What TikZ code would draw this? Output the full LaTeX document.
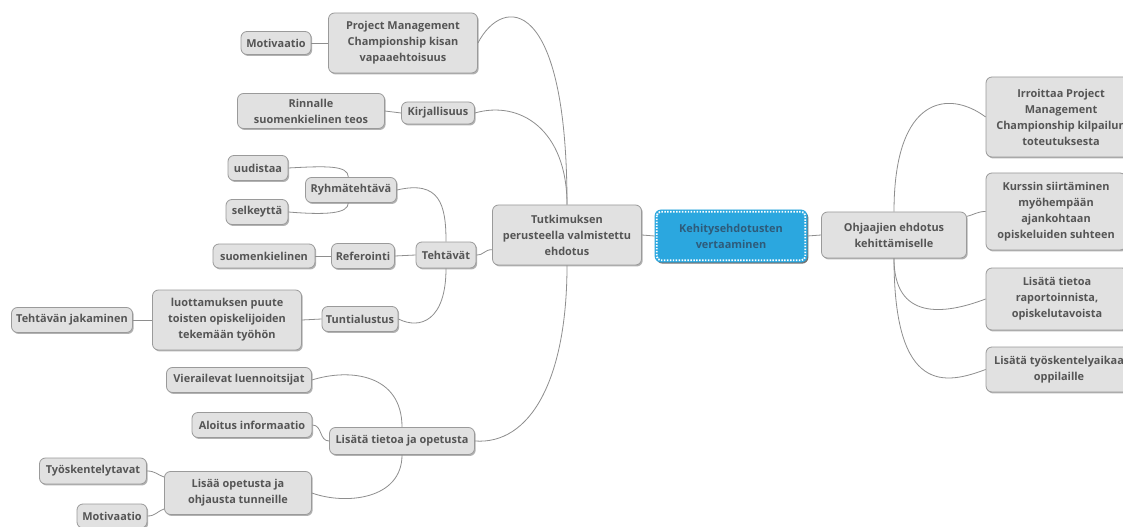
\documentclass[tikz,border=0pt]{standalone}
\usepackage{fontspec}
\setmainfont{Open Sans}
\usetikzlibrary{shadows}
\definecolor{boxfill}{HTML}{E1E1E1}
\definecolor{boxdraw}{HTML}{9A9A9A}
\definecolor{txt}{HTML}{555555}
\definecolor{edgec}{HTML}{8E8E8E}
\definecolor{cblue}{HTML}{2BA7DF}
\definecolor{ctxt}{HTML}{2E5B7A}
\newlength\pxu \setlength\pxu{0.75pt}
\begin{document}
\begin{tikzpicture}[x=0.75pt,y=-0.75pt,
  mm/.style={draw=boxdraw, fill=boxfill, rounded corners=4.5pt, line width=0.6pt, text=txt,
    font=\fontsize{8.2}{12}\selectfont\bfseries, align=center, inner sep=1pt,
    drop shadow={shadow xshift=0.9pt, shadow yshift=-1.1pt, fill=black, opacity=0.3}},
  sz/.style 2 args={minimum width=#1*\pxu, minimum height=#2*\pxu},
  cnode/.style={fill=cblue, draw=cblue, rounded corners=4.5pt, line width=0.6pt, text=ctxt,
    font=\fontsize{8.2}{12}\selectfont\bfseries, align=center, inner sep=1pt,
    drop shadow={shadow xshift=1pt, shadow yshift=-1.2pt, fill=black, opacity=0.55}},
  edge/.style={draw=edgec, line width=0.6pt}]
\useasboundingbox (0,0) rectangle (1123,527);
\clip (0,0) rectangle (1123,527);
\fill[white] (0,0) rectangle (1123,527);

% centre
\node[cnode, sz={152}{52}] (cen) at (731,236) {Kehitysehdotusten\\vertaaminen};
\draw[white, line width=1.4pt, dash pattern=on 1.1pt off 1.1pt, rounded corners=3pt]
  ([shift={(1.6pt,-1.6pt)}]cen.north west) rectangle ([shift={(-1.6pt,1.6pt)}]cen.south east);

% main branches
\node[mm, sz={149}{60}] (tut) at (567,235) {Tutkimuksen\\perusteella valmistettu\\ehdotus};
\node[mm, sz={145}{46}] (ohj) at (894,235) {Ohjaajien ehdotus\\kehittämiselle};

% right side
\node[mm, sz={150}{80}] (irr) at (1061,117) {Irroittaa Project\\Management\\Championship kilpailun\\toteutuksesta};
\node[mm, sz={140}{77}] (kur) at (1056,211.5) {Kurssin siirtäminen\\myöhempään\\ajankohtaan\\opiskeluiden suhteen};
\node[mm, sz={142}{62}] (lt1) at (1057,299) {Lisätä tietoa\\raportoinnista,\\opiskelutavoista};
\node[mm, sz={146}{45}] (lt2) at (1059,369.5) {Lisätä työskentelyaikaa\\oppilaille};

% left side, top
\node[mm, sz={149}{60}] (pm) at (403,43) {Project Management\\Championship kisan\\vapaaehtoisuus};
\node[mm, sz={70}{23}] (mot1) at (276,43) {Motivaatio};
\node[mm, sz={147}{35}] (rin) at (311,111) {Rinnalle\\suomenkielinen teos};
\node[mm, sz={73}{22}] (kir) at (438,113) {Kirjallisuus};

% tasks
\node[mm, sz={60}{25}] (uud) at (258,168) {uudistaa};
\node[mm, sz={91}{25}] (ryh) at (351,190) {Ryhmätehtävä};
\node[mm, sz={62}{25}] (sel) at (257,212) {selkeyttä};
\node[mm, sz={60}{26}] (teh) at (446,255) {Tehtävät};
\node[mm, sz={63}{25}] (ref) at (363,256) {Referointi};
\node[mm, sz={102}{24}] (suo) at (264,256) {suomenkielinen};
\node[mm, sz={76}{25}] (tun) at (360,319) {Tuntialustus};
\node[mm, sz={149}{60}] (luo) at (227,320) {luottamuksen puute\\toisten opiskelijoiden\\tekemään työhön};
\node[mm, sz={121}{25}] (tja) at (72,320) {Tehtävän jakaminen};

% info
\node[mm, sz={145}{25}] (vie) at (239,380) {Vierailevat luennoitsijat};
\node[mm, sz={120}{25}] (alo) at (252,425) {Aloitus informaatio};
\node[mm, sz={145}{27}] (lto) at (402,441) {Lisätä tietoa ja opetusta};
\node[mm, sz={147}{43}] (lop) at (238,493) {Lisää opetusta ja\\ohjausta tunneille};
\node[mm, sz={107}{26}] (tyo) at (93,471) {Työskentelytavat};
\node[mm, sz={70}{24}] (mot2) at (112,516) {Motivaatio};

% connectors
\draw[edge] (tut.east) -- (cen.west);
\draw[edge] (cen.east) -- (ohj.west);
\draw[edge] (ohj.north) .. controls +(0,-117) and +(-36,-27) .. (irr.west);
\draw[edge] ([yshift=14pt]ohj.east) .. controls +(8,-2) and +(-8,0) .. (kur.west);
\draw[edge] (ohj.south) .. controls +(0,62) and +(-42,16) .. (lt1.west);
\draw[edge] (ohj.south) .. controls +(0,137) and +(-40,15) .. (lt2.west);

\draw[edge] (tut.north) .. controls +(0,-210) and +(25,-48) .. (pm.east);
\draw[edge] (tut.north) .. controls +(0,-75) and +(45,-13) .. (kir.east);
\draw[edge] (mot1.east) -- (pm.west);
\draw[edge] (rin.east) -- (kir.west);
\draw[edge] (teh.east) .. controls +(8,0) and +(-8,0) .. ([yshift=-11pt]tut.west);
\draw[edge] (teh.north) .. controls +(0,-37) and +(43,-10) .. (ryh.east);
\draw[edge] (teh.south) .. controls +(0,52) and +(22,11) .. (tun.east);
\draw[edge] (uud.east) .. controls +(37,-2) and +(0,-12) .. ([xshift=-2pt]ryh.north);
\draw[edge] (sel.east) .. controls +(37,3) and +(0,11) .. ([xshift=-2pt]ryh.south);
\draw[edge] (suo.east) -- (ref.west);
\draw[edge] (ref.east) -- (teh.west);
\draw[edge] (tja.east) -- (luo.west);
\draw[edge] (luo.east) -- (tun.west);

\draw[edge] (tut.south) .. controls +(0,115) and +(55,4) .. (lto.east);
\draw[edge] (lto.north) .. controls +(0,-53) and +(38,-12) .. (vie.east);
\draw[edge] (alo.east) .. controls +(10,0) and +(-10,0) .. (lto.west);
\draw[edge] (lto.south) .. controls +(0,45) and +(33,12) .. (lop.east);
\draw[edge] (tyo.east) .. controls +(8,0) and +(-8,-3) .. ([yshift=12pt]lop.west);
\draw[edge] (mot2.east) .. controls +(8,0) and +(-8,3) .. ([yshift=-12pt]lop.west);
\end{tikzpicture}
\end{document}
